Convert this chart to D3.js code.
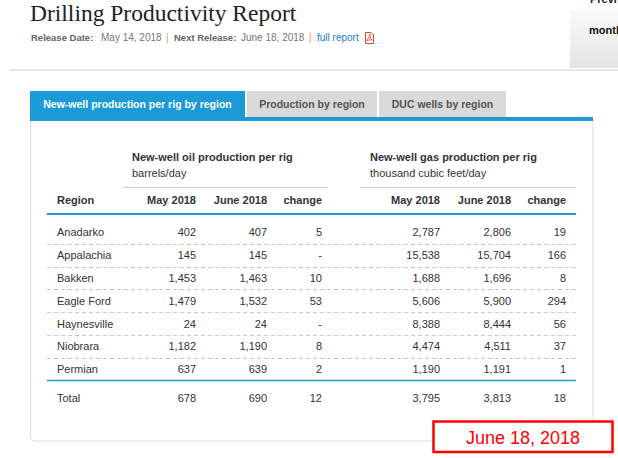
<!DOCTYPE html>
<html>
<head>
<meta charset="utf-8">
<script src="https://cdn.jsdelivr.net/npm/d3@7"></script>
<style>
  body { margin: 0; background: #fff; }
  svg text { font-family: "Liberation Sans", Arial, Helvetica, sans-serif; }
</style>
</head>
<body>
<div id="chart"></div>
<script>
const regions = ["Anadarko", "Appalachia", "Bakken", "Eagle Ford", "Haynesville", "Niobrara", "Permian"]
const oilMay = [402, 145, 1453, 1479, 24, 1182, 637]
const oilJune = [407, 145, 1463, 1532, 24, 1190, 639]
const oilChange = [5, 0, 10, 53, 0, 8, 2]
const gasMay = [2787, 15538, 1688, 5606, 8388, 4474, 1190]
const gasJune = [2806, 15704, 1696, 5900, 8444, 4511, 1191]
const gasChange = [19, 166, 8, 294, 56, 37, 1]
const oilTotal = [678, 690, 12]
const gasTotal = [3795, 3813, 18]
const columnLabels = ["May 2018", "June 2018", "change"]
const tabLabels = ["New-well production per rig by region", "Production by region", "DUC wells by region"]
const stampDate = "June 18, 2018"

const width = 618
const height = 458
const blue = "#1a9ad6"
const ink = "#333"

const svg = d3.select("#chart")
    .append("svg")
    .attr("width", width)
    .attr("height", height)

// header of the page
svg.append("text")
    .attr("x", 30).attr("y", 21)
    .style("font-family", "'Liberation Serif', 'Times New Roman', serif")
    .style("font-size", "23.5px")
    .attr("fill", "#222")
    .text("Drilling Productivity Report")

const sub = [
    { x: 31, t: "Release Date:", w: "bold", c: "#666" },
    { x: 101, t: "May 14, 2018", w: "normal", c: "#777" },
    { x: 166, t: "|", w: "normal", c: "#d4a44a" },
    { x: 174, t: "Next Release:", w: "bold", c: "#666" },
    { x: 241, t: "June 18, 2018", w: "normal", c: "#777" },
    { x: 309, t: "|", w: "normal", c: "#d4a44a" },
    { x: 317, t: "full report", w: "normal", c: "#1a7cc9" }
]
svg.selectAll("text.sub")
    .data(sub)
    .enter()
    .append("text")
    .attr("class", "sub")
    .attr("x", d => d.x).attr("y", 41)
    .style("font-size", d => d.w === "bold" ? "9.5px" : "10px")
    .style("font-weight", d => d.w)
    .attr("fill", d => d.c)
    .text(d => d.t)

// little pdf icon
const pdf = svg.append("g").attr("transform", "translate(365,32)")
pdf.append("path").attr("d", "M0.5,0.5 H6 L8.5,3 V11.5 H0.5 Z")
    .attr("fill", "#fff").attr("stroke", "#d9432f").attr("stroke-width", 1)
pdf.append("path").attr("d", "M2,9 Q4,4 5,2 Q5,7 7,8 Q4,7 2,9 Z")
    .attr("fill", "none").attr("stroke", "#d9432f").attr("stroke-width", 0.8)

// grey box top right
const grad = svg.append("defs").append("linearGradient")
    .attr("id", "boxg").attr("x1", 0).attr("y1", 0).attr("x2", 0).attr("y2", 1)
grad.append("stop").attr("offset", "0%").attr("stop-color", "#fafafa")
grad.append("stop").attr("offset", "100%").attr("stop-color", "#e4e4e4")
svg.append("rect").attr("x", 570).attr("y", 9).attr("width", 48).attr("height", 59)
    .attr("fill", "url(#boxg)")
svg.append("text").attr("x", 590).attr("y", 3)
    .style("font-size", "11px").style("font-weight", "bold").attr("fill", "#222").text("Previ")
svg.append("text").attr("x", 589).attr("y", 34)
    .style("font-size", "11px").style("font-weight", "bold").attr("fill", "#111").text("montl")

svg.append("rect").attr("x", 10).attr("y", 69).attr("width", 608).attr("height", 2)
    .attr("fill", "#e8e8e8")

// tabs
const tabs = [
    { x: 30, w: 215 },
    { x: 247, w: 130 },
    { x: 379, w: 127 }
]
const tabG = svg.selectAll("g.tab")
    .data(tabLabels)
    .enter()
    .append("g")
    .attr("class", "tab")
tabG.append("rect")
    .attr("x", (d, i) => tabs[i].x).attr("y", 91)
    .attr("width", (d, i) => tabs[i].w).attr("height", 26)
    .attr("fill", (d, i) => i === 0 ? blue : "#d9d9d9")
tabG.append("text")
    .attr("x", (d, i) => tabs[i].x + tabs[i].w / 2).attr("y", 108)
    .attr("text-anchor", "middle")
    .style("font-size", "10.5px").style("font-weight", "bold")
    .attr("fill", (d, i) => i === 0 ? "#fff" : "#555")
    .text(d => d)

// panel
svg.append("path")
    .attr("d", "M30.5,120 V437 Q30.5,441 34.5,441 H589 Q593,441 593,437 V120")
    .attr("fill", "#fff").attr("stroke", "#dcdcdc").attr("stroke-width", 1)
svg.append("rect").attr("x", 30).attr("y", 117).attr("width", 563).attr("height", 4)
    .attr("fill", blue)

// table
const y = d3.scaleBand()
    .domain(regions)
    .range([221, 380.5])

const oilX = d3.scaleOrdinal().domain(columnLabels).range([196, 267, 322])
const gasX = d3.scaleOrdinal().domain(columnLabels).range([440, 511, 566])
const fmt = v => v === 0 ? "-" : d3.format(",")(v)

// group headers
const groups = [
    { x: 132, t: "New-well oil production per rig", u: "barrels/day", x0: 123, x1: 328 },
    { x: 370, t: "New-well gas production per rig", u: "thousand cubic feet/day", x0: 360, x1: 576 }
]
groups.forEach(g => {
    svg.append("text").attr("x", g.x).attr("y", 161)
        .style("font-size", "11px").style("font-weight", "bold").attr("fill", ink).text(g.t)
    svg.append("text").attr("x", g.x).attr("y", 177)
        .style("font-size", "11px").attr("fill", ink).text(g.u)
    svg.append("line").attr("x1", g.x0).attr("x2", g.x1).attr("y1", 187.5).attr("y2", 187.5)
        .attr("stroke", "#ccc").attr("stroke-width", 1)
})

// column headers
svg.append("text").attr("x", 57).attr("y", 204)
    .style("font-size", "11px").style("font-weight", "bold").attr("fill", ink).text("Region")
;[oilX, gasX].forEach(sc => {
    svg.selectAll(null)
        .data(columnLabels)
        .enter()
        .append("text")
        .attr("x", d => sc(d)).attr("y", 204)
        .attr("text-anchor", "end")
        .style("font-size", "11px").style("font-weight", "bold").attr("fill", ink)
        .text(d => d)
})

svg.append("line").attr("x1", 47).attr("x2", 576).attr("y1", 214).attr("y2", 214)
    .attr("stroke", blue).attr("stroke-width", 2)

// dashed row separators
svg.selectAll("line.sep")
    .data(regions.slice(1))
    .enter()
    .append("line")
    .attr("class", "sep")
    .attr("x1", 47).attr("x2", 576)
    .attr("y1", d => Math.round(y(d)) + 0.5).attr("y2", d => Math.round(y(d)) + 0.5)
    .attr("stroke", "#c8c8c8").attr("stroke-dasharray", "4,3")

const rows = svg.selectAll("g.row")
    .data(regions)
    .enter()
    .append("g")
    .attr("class", "row")
    .attr("transform", d => `translate(0,${y(d) + y.bandwidth() / 2 + 4})`)

rows.append("text").attr("x", 57)
    .style("font-size", "11px").attr("fill", ink).text(d => d)

const cells = [
    [oilX, "May 2018", oilMay], [oilX, "June 2018", oilJune], [oilX, "change", oilChange],
    [gasX, "May 2018", gasMay], [gasX, "June 2018", gasJune], [gasX, "change", gasChange]
]
cells.forEach(([sc, col, vals]) => {
    rows.append("text")
        .attr("x", sc(col))
        .attr("text-anchor", "end")
        .style("font-size", "11px").attr("fill", ink)
        .text((d, i) => fmt(vals[i]))
})

svg.append("line").attr("x1", 47).attr("x2", 576)
    .attr("y1", y.range()[1]).attr("y2", y.range()[1])
    .attr("stroke", blue).attr("stroke-width", 1.5)

// total row
const totalY = 402
svg.append("text").attr("x", 57).attr("y", totalY)
    .style("font-size", "11px").attr("fill", ink).text("Total")
;[[oilX, oilTotal], [gasX, gasTotal]].forEach(([sc, vals]) => {
    svg.selectAll(null)
        .data(columnLabels)
        .enter()
        .append("text")
        .attr("x", d => sc(d)).attr("y", totalY)
        .attr("text-anchor", "end")
        .style("font-size", "11px").attr("fill", ink)
        .text((d, i) => fmt(vals[i]))
})

// red date stamp
svg.append("rect")
    .attr("x", 433.5).attr("y", 421.5).attr("width", 179).attr("height", 30.5)
    .attr("fill", "#fff").attr("stroke", "#f00").attr("stroke-width", 2.5)
svg.append("text")
    .attr("x", 523).attr("y", 444)
    .attr("text-anchor", "middle")
    .style("font-size", "18px").attr("fill", "#f00")
    .text(stampDate)
</script>
</body>
</html>
